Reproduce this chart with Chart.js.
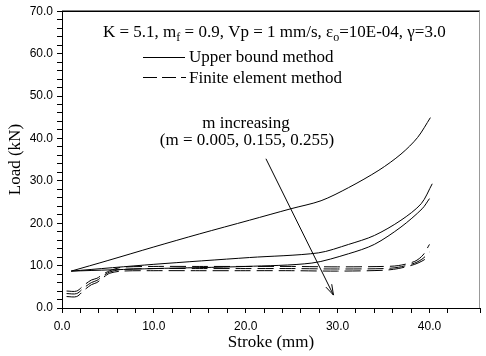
<!DOCTYPE html>
<html>
<head>
<meta charset="utf-8">
<script src="https://cdn.jsdelivr.net/npm/chart.js@4.4.0/dist/chart.umd.min.js"></script>
<style>
  body { margin: 0; background: #fff; }
  canvas { display: block; }
</style>
</head>
<body>
<canvas id="mycanvas" width="486" height="356"></canvas>
<script>
// upper bound method, three friction factors (m = 0.005, 0.155, 0.255)
var ubX1 = [1, 5, 10, 15, 20.4, 24.9, 28.2, 31.2, 34.5, 36.9, 38.7, 40.1];
var ubY1 = [8.7, 11.2, 14.4, 17.5, 20.7, 23.4, 25.3, 28.4, 32.5, 36.3, 40.2, 44.9];
var ubX2 = [1, 10, 20.4, 27.9, 31.2, 34, 36.9, 39.1, 40.3];
var ubY2 = [8.7, 10.3, 11.9, 13.0, 15.0, 17.1, 20.7, 24.6, 29.3];
var ubX3 = [1, 10, 20, 27.2, 31.2, 34, 36.9, 39.2, 40.0];
var ubY3 = [8.7, 9.3, 9.8, 10.6, 12.8, 15.0, 19.1, 23.4, 25.8];

// finite element method
var feX = [0.5, 1.6, 2.4, 3.2, 3.8, 4.5, 5.2, 6.5, 10, 15, 20, 25, 30, 35, 36.6, 38.4, 39.3, 40.0];
var feY1 = [4.0, 4.0, 5.4, 6.6, 7.0, 8.0, 8.8, 9.6, 9.8, 9.8, 9.8, 9.8, 9.7, 9.8, 10.0, 11.0, 12.5, 15.0];
var feY2 = [3.4, 3.4, 4.8, 6.0, 6.5, 7.6, 8.5, 9.1, 9.3, 9.3, 9.3, 9.3, 9.2, 9.3, 9.6, 10.6, 11.7, 13.2];
var feY3 = [2.7, 2.7, 4.2, 5.5, 6.0, 7.2, 8.2, 8.7, 8.8, 8.8, 8.8, 8.8, 8.7, 8.9, 9.3, 10.3, 11.2, 12.2];

// arrow "m increasing": start and end in data units
var arrowFrom = [22.2, 35.2];
var arrowTo = [29.55, 3.05];

var xMax = 45.5;
var yMax = 70;

function pts(xs, ys) {
	return xs.map(function(x, i) { return {x: x, y: ys[i]}; });
}

function line(xs, ys, dashed) {
	return {
		data: pts(xs, ys),
		showLine: true,
		borderColor: "#000",
		borderWidth: 1,
		borderDash: dashed ? [16, 6] : [],
		pointRadius: 0,
		tension: 0.3,
		fill: false
	};
}

function fmt(v) {
	return Math.abs(v % 10) < 1e-6 ? v.toFixed(1) : "";
}

var serif = "'Liberation Serif', 'Times New Roman', serif";

function rich(ctx, parts, x, y, size) {
	parts.forEach(function(p) {
		if (p[1]) {
			ctx.font = Math.round(size * 0.7) + "px " + serif;
			ctx.fillText(p[0], x, y + 4);
		} else {
			ctx.font = size + "px " + serif;
			ctx.fillText(p[0], x, y);
		}
		x += ctx.measureText(p[0]).width;
	});
}

var extras = {
	id: "extras",
	afterDraw: function(chart) {
		var ctx = chart.ctx;
		var a = chart.chartArea;
		var xs = chart.scales.x, ys = chart.scales.y;
		ctx.save();

		// frame top & right
		ctx.strokeStyle = "#000";
		ctx.lineWidth = 1.5;
		ctx.beginPath();
		ctx.moveTo(a.left, a.top);
		ctx.lineTo(a.right, a.top);
		ctx.stroke();
		ctx.strokeStyle = "#999";
		ctx.lineWidth = 1;
		ctx.beginPath();
		ctx.moveTo(a.right - 0.5, a.top);
		ctx.lineTo(a.right - 0.5, a.bottom);
		ctx.stroke();

		ctx.fillStyle = "#000";
		ctx.textBaseline = "alphabetic";
		ctx.textAlign = "left";
		rich(ctx, [["K = 5.1, m"], ["f", 1], [" = 0.9, Vp = 1 mm/s, \u03b5"], ["o", 1], ["=10E-04, \u03b3=3.0"]], 103, 37, 17);

		// legend
		ctx.strokeStyle = "#000";
		ctx.lineWidth = 1;
		ctx.beginPath();
		ctx.moveTo(143, 57.5);
		ctx.lineTo(185, 57.5);
		ctx.stroke();
		ctx.setLineDash([14, 5]);
		ctx.beginPath();
		ctx.moveTo(143, 77.5);
		ctx.lineTo(186, 77.5);
		ctx.stroke();
		ctx.setLineDash([]);
		ctx.font = "17px " + serif;
		ctx.fillText("Upper bound method", 189, 62);
		ctx.fillText("Finite element method", 189, 83);

		ctx.textAlign = "center";
		ctx.fillText("m increasing", 246, 128);
		ctx.fillText("(m = 0.005, 0.155, 0.255)", 247, 145);

		// arrow
		var x1 = xs.getPixelForValue(arrowFrom[0]), y1 = ys.getPixelForValue(arrowFrom[1]);
		var x2 = xs.getPixelForValue(arrowTo[0]), y2 = ys.getPixelForValue(arrowTo[1]);
		var ang = Math.atan2(y2 - y1, x2 - x1);
		ctx.beginPath();
		ctx.moveTo(x1, y1);
		ctx.lineTo(x2, y2);
		ctx.moveTo(x2 - 11 * Math.cos(ang - 0.3), y2 - 11 * Math.sin(ang - 0.3));
		ctx.lineTo(x2, y2);
		ctx.lineTo(x2 - 11 * Math.cos(ang + 0.3), y2 - 11 * Math.sin(ang + 0.3));
		ctx.stroke();
		ctx.restore();
	}
};

var tickFont = {family: "'Liberation Sans', Arial, sans-serif", size: 12};

var ctx = document.getElementById("mycanvas");
var chart = new Chart(ctx, {
	type: "scatter",
	data: {
		datasets: [
			line(ubX1, ubY1, false),
			line(ubX2, ubY2, false),
			line(ubX3, ubY3, false),
			line(feX, feY1, true),
			line(feX, feY2, true),
			line(feX, feY3, true)
		]
	},
	options: {
		responsive: false,
		animation: false,
		layout: {padding: {left: 0, right: 3, top: 10, bottom: 0}},
		plugins: {legend: {display: false}, tooltip: {enabled: false}},
		scales: {
			x: {
				type: "linear",
				min: 0,
				max: xMax,
				afterFit: function(s) { s.height = 48; },
				grid: {drawOnChartArea: false, color: "#000", tickLength: 5},
				border: {color: "#000", width: 1},
				ticks: {stepSize: 2, autoSkip: false, maxRotation: 0, padding: 6, color: "#000", font: tickFont, callback: fmt},
				title: {display: true, text: "Stroke (mm)", color: "#000", font: {family: serif, size: 17}, padding: {top: 0, bottom: 3}}
			},
			y: {
				min: 0,
				max: yMax,
				afterFit: function(s) { s.width = 62; },
				grid: {drawOnChartArea: false, color: "#000", tickLength: 5},
				border: {color: "#000", width: 1},
				ticks: {stepSize: 2, autoSkip: false, padding: 4, color: "#000", font: tickFont, callback: fmt},
				title: {display: true, text: "Load (kN)", color: "#000", font: {family: serif, size: 17}, padding: {top: 5, bottom: 0}}
			}
		}
	},
	plugins: [extras]
});
</script>
</body>
</html>
